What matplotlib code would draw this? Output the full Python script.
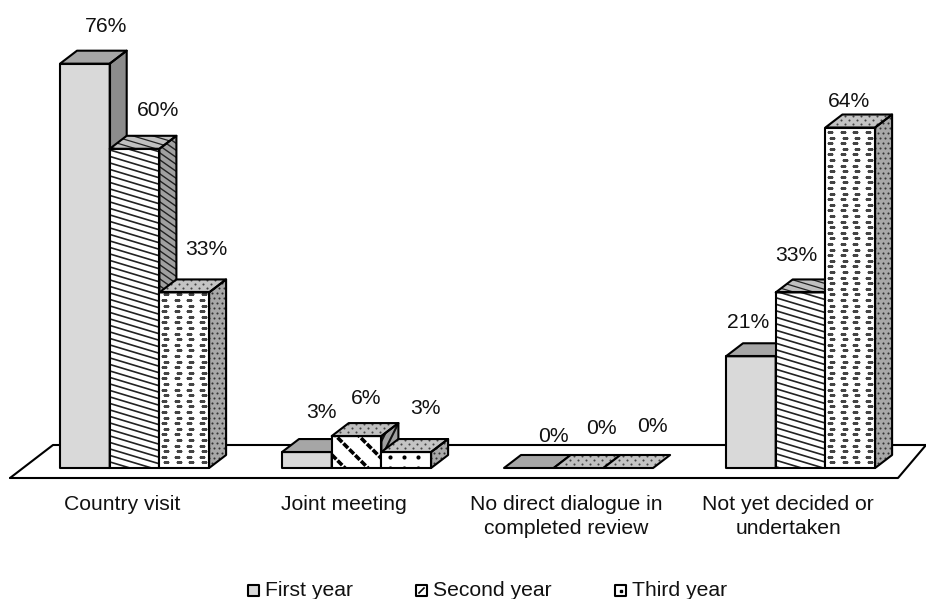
import numpy as np
import matplotlib

matplotlib.use("Agg")
import matplotlib.pyplot as plt
from matplotlib.collections import LineCollection
from matplotlib.patches import Polygon

plt.rcParams["font.family"] = ["Liberation Sans", "DejaVu Sans"]

categories = ["Country visit", "Joint meeting", "No direct dialogue in\ncompleted review", "Not yet decided or\nundertaken"]
series_names = ["First year", "Second year", "Third year"]
first_year = [76, 3, 0, 21]
second_year = [60, 6, 0, 33]
third_year = [33, 3, 0, 64]

# horizontal axis runs in pixels, vertical axis in percent
W, H = 926, 599
PX_PER_PCT = 5.32
BASE_PX = 468
GROUP_LEFT = [60, 282, 504, 726]
BAR_W = 49.7
DEPTH_X = 17
DEPTH_Y = 13 / PX_PER_PCT

LW = 1.5
FS = 15.2

# label offsets from the bar's front left corner at its top, in pixels
LABEL_OFFSET = [
    [(46, -37), (48, -38), (47, -43)],
    [(39, -40), (34, -38), (44, -44)],
    [(49, -31), (48, -39), (49, -41)],
    [(22, -34), (21, -37), (24, -26)],
]


def pct(px):
    return px / PX_PER_PCT


fig = plt.figure(figsize=(W / 100, H / 100), dpi=100)
ax = fig.add_axes([0, 0, 1, 1])
ax.set_axis_off()


def stripes(clip, x0, x1, y0, y1, slope, spacing, color="black", lw=1.0, ls="-"):
    # parallel lines across a face, y values handled in pixels then converted back
    y0, y1 = y0 * PX_PER_PCT, y1 * PX_PER_PCT
    lo = min(y0 - slope * x0, y0 - slope * x1)
    hi = max(y1 - slope * x0, y1 - slope * x1)
    start = np.floor(lo / spacing) * spacing
    segs = [[(x0, pct(c + slope * x0)), (x1, pct(c + slope * x1))] for c in np.arange(start, hi + spacing, spacing)]
    lc = LineCollection(segs, colors=color, linewidths=lw, linestyles=ls, zorder=clip.get_zorder())
    ax.add_collection(lc)
    lc.set_clip_path(clip)


def dashes(clip, x0, x1, y0, y1, dx, dy, marker="_", ms=3.0, mew=1.3, color="black", stagger=None):
    stagger = dx / 2 if stagger is None else stagger
    rows = np.arange(np.floor(y0 * PX_PER_PCT / dy) * dy, y1 * PX_PER_PCT + dy, dy)
    xs, ys = [], []
    for i, r in enumerate(rows):
        for x in np.arange(x0 - dx + (stagger if i % 2 else 0), x1 + dx, dx):
            xs.append(x)
            ys.append(pct(r))
    line, = ax.plot(xs, ys, ls="none", marker=marker, ms=ms, mew=mew, mfc=color, mec=color, zorder=clip.get_zorder())
    line.set_clip_path(clip)


def face(verts, fill):
    p = Polygon(verts, closed=True, facecolor=fill, edgecolor="none", zorder=zorder[0])
    ax.add_patch(p)
    return p


def outline(verts):
    ax.add_patch(Polygon(verts, closed=True, fill=False, edgecolor="black", linewidth=LW, joinstyle="round", zorder=zorder[0]))


def extent(verts):
    a = np.array(verts)
    return a[:, 0].min(), a[:, 0].max(), a[:, 1].min(), a[:, 1].max()


def decorate_front(p, verts, s, small):
    x0, x1, y0, y1 = extent(verts)
    if s == 1:
        if small:
            stripes(p, x0, x1, y0, y1, -1.0, 23, lw=2.6, ls=(0, (1.8, 0.5)))
        else:
            stripes(p, x0, x1, y0, y1, -0.3, 6.5, color="#222222", lw=1.2)
    elif s == 2:
        if small:
            dashes(p, x0 + 9, x1, y0, y1, 14, 11, marker="o", ms=3.0, mew=0, stagger=0)
        else:
            dashes(p, x0 + 5, x1, y0, y1, 12.5, 5.6, ms=3.8, mew=0.9, color="#444444", stagger=2)


def decorate_top(p, verts, s, small):
    x0, x1, y0, y1 = extent(verts)
    if s == 1 and not small:
        stripes(p, x0, x1, y0, y1, -0.3, 6, color="#222222", lw=0.9)
    elif s in (1, 2):
        dashes(p, x0, x1, y0, y1, 8, 4, marker="o", ms=1.5, mew=0, color="#444444")


def decorate_side(p, verts, s, small):
    x0, x1, y0, y1 = extent(verts)
    if s == 1:
        if small:
            stripes(p, x0, x1, y0, y1, 2.0, 16, color="#111111", lw=1.5)
        else:
            stripes(p, x0, x1, y0, y1, -0.7, 7, color="#222222", lw=1.0)
    elif s == 2:
        dashes(p, x0, x1, y0, y1, 5, 5, marker="o", ms=1.5, mew=0, color="#333333")


FRONT_FILL = ["#d9d9d9", "white", "white"]
TOP_FILL = ["#a6a6a6", "#c0c0c0", "#c4c4c4"]
SIDE_FILL = ["#8c8c8c", "#a0a0a0", "#a8a8a8"]

zorder = [3]

# floor of the chart
y_front = pct(BASE_PX - 478)
y_back = pct(BASE_PX - 445)
ax.plot([10, 898, 926], [y_front, y_front, y_back], color="black", lw=LW, zorder=1, solid_capstyle="round")
ax.plot([10, 53, 926], [y_front, y_back, y_back], color="black", lw=LW, zorder=1, solid_capstyle="round")

# bars, drawn left to right so each one covers the side of its neighbour
all_series = [first_year, second_year, third_year]
for g, left in enumerate(GROUP_LEFT):
    for s, values in enumerate(all_series):
        v = values[g]
        x0 = left + s * BAR_W
        x1 = x0 + BAR_W
        small = v < 10
        front = [(x0, 0), (x1, 0), (x1, v), (x0, v)]
        top = [(x0, v), (x1, v), (x1 + DEPTH_X, v + DEPTH_Y), (x0 + DEPTH_X, v + DEPTH_Y)]
        side = [(x1, 0), (x1 + DEPTH_X, DEPTH_Y), (x1 + DEPTH_X, v + DEPTH_Y), (x1, v)]
        zorder[0] += 1
        if v > 0:
            p = face(front, FRONT_FILL[s])
            decorate_front(p, front, s, small)
            p = face(side, SIDE_FILL[s])
            decorate_side(p, side, s, small)
        p = face(top, TOP_FILL[s])
        decorate_top(p, top, s, small)
        if v > 0:
            outline(front)
            outline(side)
        outline(top)

        ox, oy = LABEL_OFFSET[g][s]
        ax.text(x0 + ox, v - pct(oy), f"{v}%", ha="center", va="center", fontsize=FS, color="#111111", zorder=50)

for left, name in zip(GROUP_LEFT, categories):
    ax.text(left + 1.25 * BAR_W, pct(BASE_PX - 495), name, ha="center", va="top", fontsize=FS, color="#111111", linespacing=1.32)

# legend row
legend_x = [248, 416, 615]
legend_text_x = [265, 433, 632]
leg_y0 = pct(BASE_PX - 596)
leg_y1 = pct(BASE_PX - 585)
for i, name in enumerate(series_names):
    xa, xb = legend_x[i], legend_x[i] + 11
    box = [(xa, leg_y0), (xb, leg_y0), (xb, leg_y1), (xa, leg_y1)]
    zorder[0] = 60
    p = face(box, FRONT_FILL[i])
    if i == 1:
        ax.plot([xa + 3, xb - 3], [leg_y0 + pct(3), leg_y1 - pct(3)], color="black", lw=1.2, zorder=61)
    if i == 2:
        ax.plot([(xa + xb) / 2], [(leg_y0 + leg_y1) / 2], "s", ms=1.6, color="black", zorder=61)
    outline(box)
    ax.text(legend_text_x[i], pct(BASE_PX - 596), name, ha="left", va="baseline", fontsize=FS, color="#111111")

ax.set_xlim(0, W)
ax.set_ylim(pct(BASE_PX - H), pct(BASE_PX))

fig.savefig("out.png", dpi=100, facecolor="white")
